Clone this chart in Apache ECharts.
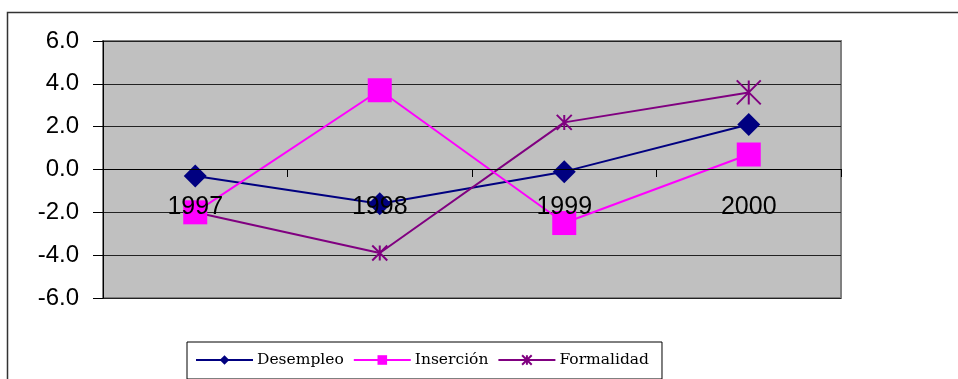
<!DOCTYPE html>
<html><head><meta charset="utf-8">
<script src="https://cdn.jsdelivr.net/npm/echarts@6/dist/echarts.min.js"></script>
<style>html,body{margin:0;padding:0;background:#fff}#c{width:958px;height:379px}</style>
</head><body><div id="c"></div>
<script>
const categories = ['1997', '1998', '1999', '2000'];
const desempleo = [-0.3, -1.6, -0.1, 2.1];
const insercion = [-2.0, 3.7, -2.5, 0.7];
const formalidad = [-2.0, -3.9, 2.2, 3.6];
const seriesNames = ['Desempleo', 'Inserción', 'Formalidad'];

const chart = echarts.init(document.getElementById('c'), null, {renderer: 'canvas'});
const star = 'path://M0,0L10,10M10,0L0,10M5,0L5,10';
chart.setOption({
  animation: false,
  backgroundColor: '#fff',
  textStyle: {fontFamily: 'Liberation Sans'},
  graphic: [{
    type: 'rect', shape: {x: 7.5, y: 12.5, width: 1000, height: 500},
    style: {fill: 'none', stroke: '#333', lineWidth: 1.5}, z: -10
  }],
  grid: {left: 103, top: 41, right: 117, bottom: 81, show: true,
    backgroundColor: '#C0C0C0', borderColor: '#808080', borderWidth: 2},
  legend: {
    left: 187, top: 342, orient: 'horizontal',
    padding: [10, 13, 11, 8],
    borderColor: '#000', borderWidth: 1, borderRadius: 0,
    backgroundColor: '#fff',
    itemWidth: 57, itemHeight: 12, itemGap: 9,
    textStyle: {fontFamily: 'DejaVu Serif', fontSize: 15.5, color: '#000', padding: [0, 0, 0, -1]},
    data: seriesNames
  },
  xAxis: {
    type: 'category', data: categories, boundaryGap: true, z: 5,
    offset: -129,
    axisLine: {onZero: false, lineStyle: {color: '#000', width: 1}},
    axisTick: {show: true, length: 8, inside: false, lineStyle: {color: '#000'}},
    axisLabel: {margin: 26, fontSize: 25, color: '#000', fontFamily: 'Liberation Sans'},
    splitLine: {show: false}
  },
  yAxis: {
    type: 'value', min: -6, max: 6, interval: 2,
    axisLine: {show: true, lineStyle: {color: '#000', width: 1}},
    axisTick: {show: true, length: 10, lineStyle: {color: '#000'}},
    axisLabel: {margin: 24, fontSize: 24, color: '#000', fontFamily: 'Liberation Sans',
      formatter: v => v.toFixed(1)},
    splitLine: {show: true, lineStyle: {color: '#222', width: 1}}
  },
  series: [
    {name: seriesNames[0], type: 'line', data: desempleo, color: '#000080', z: 2,
      symbol: 'diamond', symbolSize: 23, lineStyle: {width: 2}},
    {name: seriesNames[1], type: 'line', data: insercion, color: '#FF00FF', z: 4,
      symbol: 'rect', symbolSize: 24, lineStyle: {width: 2}},
    {name: seriesNames[2], type: 'line', data: formalidad, color: '#800080', z: 3,
      symbol: star, symbolSize: (v, p) => p.dataIndex === 3 ? 24 : 15,
      itemStyle: {color: '#800080', borderColor: '#800080', borderWidth: 2},
      lineStyle: {width: 2}}
  ]
});
</script></body></html>
